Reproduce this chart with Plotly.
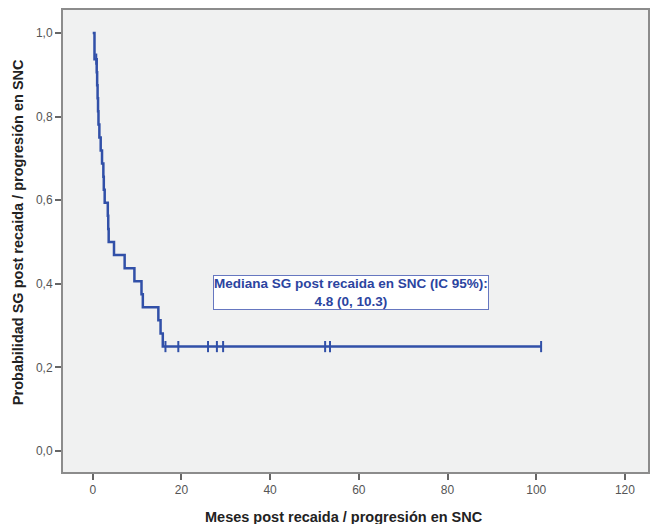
import plotly.graph_objects as go

# Kaplan-Meier overall survival after CNS relapse / progression (months)
event_times = [0.4, 0.9, 1.0, 1.1, 1.2, 1.3, 1.5, 1.8, 2.1, 2.4, 2.5, 2.7,
               3.4, 3.5, 3.6, 4.8, 7.2, 9.4, 11.0, 11.3, 14.8, 15.3, 15.8]
survival = [0.9375, 0.906, 0.875, 0.844, 0.813, 0.781, 0.75, 0.719, 0.688,
            0.656, 0.625, 0.594, 0.563, 0.531, 0.5, 0.469, 0.4375, 0.406,
            0.375, 0.344, 0.313, 0.281, 0.25]
censor_times = [0.8, 16.4, 19.3, 26.0, 28.0, 29.4, 52.4, 53.5, 101.1]
censor_surv = [0.9375, 0.25, 0.25, 0.25, 0.25, 0.25, 0.25, 0.25, 0.25]

x_ticks = [0, 20, 40, 60, 80, 100, 120]
y_ticks = [0.0, 0.2, 0.4, 0.6, 0.8, 1.0]
y_tick_labels = ["0,0", "0,2", "0,4", "0,6", "0,8", "1,0"]

median_label = "Mediana SG post recaida en SNC (IC 95%):<br>4.8 (0, 10.3)"
x_title = "Meses post recaida / progresión en SNC"
y_title = "Probabilidad SG post recaida / progresión en SNC"

BLUE = "#3150A8"
FONT = "Liberation Sans, Arial, sans-serif"

# step path: start at S=1 and extend the last level to the final follow-up
step_x = [0.0] + event_times + [max(censor_times)]
step_y = [1.0] + survival + [survival[-1]]

fig = go.Figure()
fig.add_trace(go.Scatter(
    x=step_x, y=step_y, mode="lines", line_shape="hv",
    line=dict(color=BLUE, width=2.5), hoverinfo="skip", showlegend=False,
))
fig.add_trace(go.Scatter(
    x=censor_times, y=censor_surv, mode="markers",
    marker=dict(symbol="line-ns", size=8, line=dict(color=BLUE, width=2)),
    showlegend=False,
))

fig.add_annotation(
    x=58.3, y=0.38, xref="x", yref="y", text=median_label, showarrow=False,
    font=dict(family=FONT, size=13.5, color="#2B44A0", weight="bold"),
    bgcolor="white", bordercolor="#6677C0", borderwidth=1, borderpad=0,
    align="center",
)
fig.add_annotation(
    x=345, y=517, xref="paper", yref="paper", text=f"<b>{x_title}</b>",
    showarrow=False, xanchor="center", yanchor="middle",
    font=dict(family=FONT, size=14.5, color="#222"),
)
fig.add_annotation(
    x=18, y=232, xref="paper", yref="paper", text=f"<b>{y_title}</b>",
    showarrow=False, textangle=-90, xanchor="center", yanchor="middle",
    font=dict(family=FONT, size=14.5, color="#222"),
)

W, H = 653, 524
L, R, T, B = 63, 3, 10, 52
# convert pixel positions of the title annotations to paper coordinates
for ann in fig.layout.annotations[1:]:
    ann.x = (ann.x - L) / (W - L - R)
    ann.y = 1 - (ann.y - T) / (H - T - B)

fig.update_layout(
    width=W, height=H, margin=dict(l=L, r=R, t=T, b=B),
    paper_bgcolor="white", plot_bgcolor="#F0F1F1",
    font=dict(family=FONT, size=12, color="#555"),
)
fig.update_xaxes(
    range=[-6.7, 125.2], tickvals=x_ticks, showgrid=False, zeroline=False,
    showline=True, mirror=True, linecolor="#8C8C8C", linewidth=2,
    ticks="outside", ticklen=6, tickcolor="#666", tickwidth=1.5,
    tickfont=dict(size=12, color="#555"),
)
fig.update_yaxes(
    range=[-0.05, 1.055], tickvals=y_ticks, ticktext=y_tick_labels,
    showgrid=False, zeroline=False,
    showline=True, mirror=True, linecolor="#8C8C8C", linewidth=2,
    ticks="outside", ticklen=6, tickcolor="#666", tickwidth=1.5,
    tickfont=dict(size=12, color="#555"),
)

fig.write_html("out.html")
